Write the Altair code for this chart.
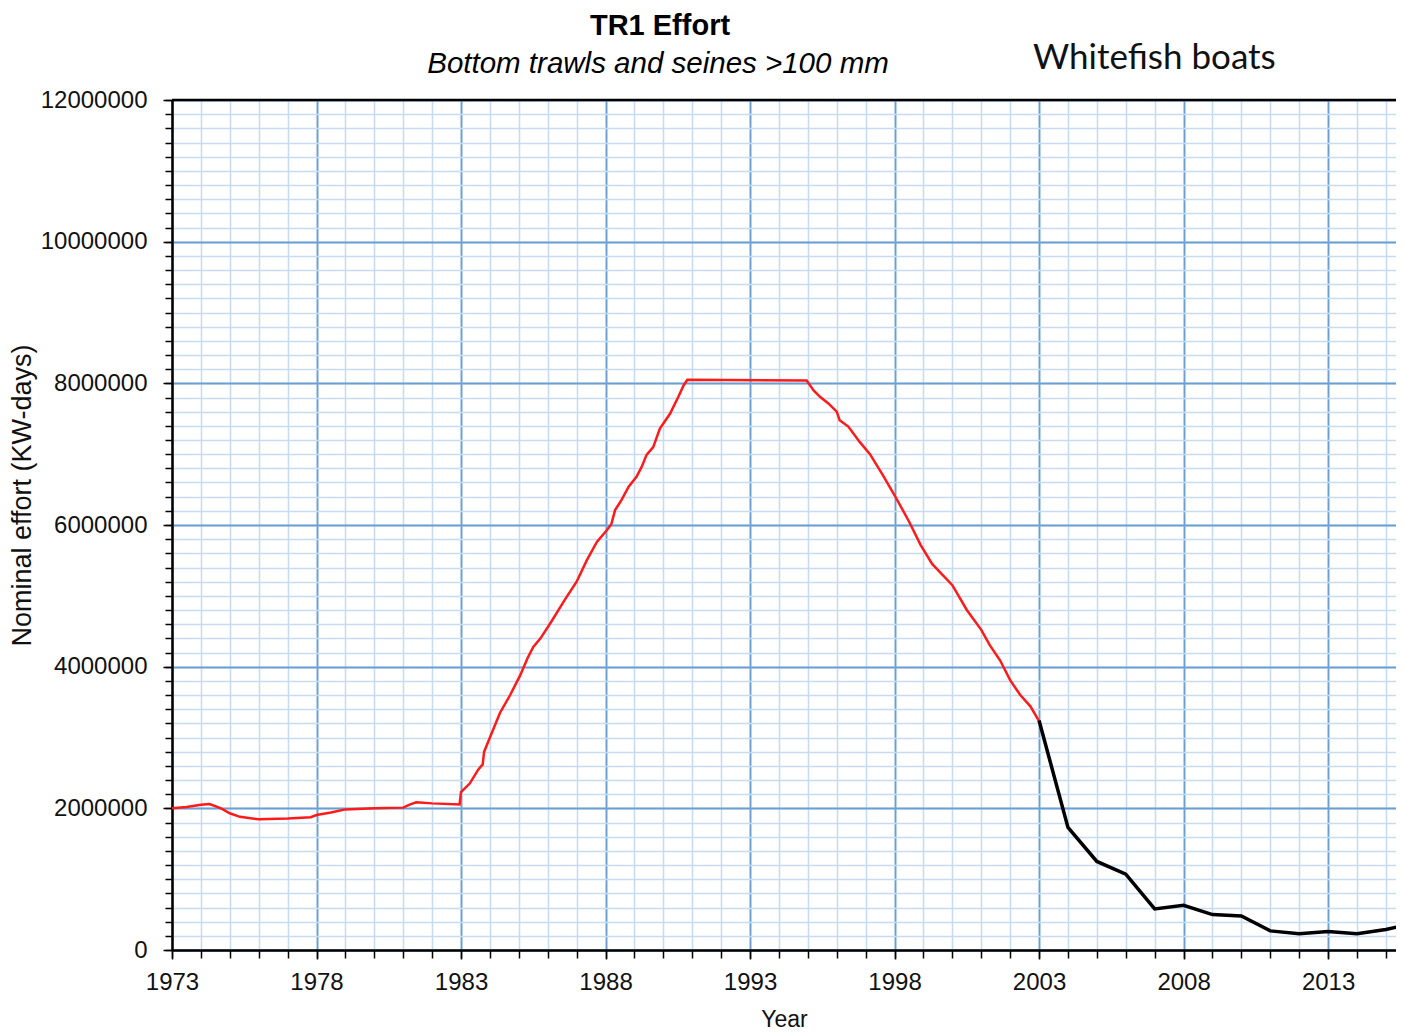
import altair as alt
import pandas as pd

# ---- data ----
red_year = [1973.0, 1973.5, 1974.0, 1974.3, 1974.7, 1975.0, 1975.35, 1976.0, 1977.0, 1977.8,
            1978.0, 1978.5, 1979.0, 1980.0, 1981.0, 1981.2, 1981.45, 1982.0, 1982.95, 1983.0,
            1983.3, 1983.6, 1983.75, 1983.8, 1984.0, 1984.35, 1984.7, 1985.05, 1985.3, 1985.5,
            1985.75, 1986.1, 1986.6, 1987.0, 1987.35, 1987.7, 1988.05, 1988.2, 1988.33, 1988.55,
            1988.8, 1989.07, 1989.25, 1989.42, 1989.65, 1989.88, 1990.23, 1990.52, 1990.7, 1990.83,
            1994.96, 1995.2, 1995.42, 1995.7, 1996.0, 1996.1, 1996.4, 1996.8, 1997.15, 1997.6,
            1998.0, 1998.5, 1998.9, 1999.3, 2000.0, 2000.5, 2001.0, 2001.3, 2001.65, 2002.0,
            2002.35, 2002.7, 2003.0]
red_value_m = [2.00, 2.02, 2.05, 2.06, 2.00, 1.93, 1.88, 1.845, 1.855, 1.875,
               1.905, 1.94, 1.985, 2.00, 2.01, 2.05, 2.085, 2.07, 2.055, 2.23,
               2.35, 2.55, 2.62, 2.80, 3.00, 3.35, 3.60, 3.88, 4.12, 4.28,
               4.40, 4.62, 4.95, 5.20, 5.50, 5.76, 5.93, 6.01, 6.21, 6.35,
               6.54, 6.68, 6.82, 6.99, 7.10, 7.36, 7.57, 7.81, 7.97, 8.05,
               8.04, 7.90, 7.81, 7.72, 7.60, 7.48, 7.39, 7.17, 7.00, 6.70,
               6.42, 6.05, 5.72, 5.45, 5.15, 4.80, 4.52, 4.30, 4.09, 3.81,
               3.60, 3.44, 3.23]

black_year = [2003, 2004, 2005, 2006, 2007, 2008, 2009, 2010, 2011, 2012, 2013, 2014, 2015, 2015.65]
black_value_m = [3.24, 1.73, 1.25, 1.07, 0.58, 0.63, 0.50, 0.48, 0.27, 0.23, 0.26, 0.23, 0.29, 0.35]

minor_years = list(range(1973, 2016))
major_years = list(range(1973, 2016, 5))
minor_vals = list(range(0, 12000001, 200000))
major_vals = list(range(0, 12000001, 2000000))

title_text = "TR1 Effort"
subtitle_text = "Bottom trawls and seines >100 mm"
note_text = "Whitefish boats"

red_df = pd.DataFrame({"year": red_year, "value": [v * 1e6 for v in red_value_m]})
black_df = pd.DataFrame({"year": black_year, "value": [v * 1e6 for v in black_value_m]})
top_df = pd.DataFrame({"value": [12000000]})

FONT = "Liberation Sans"
MINOR = "#c8dcf1"
MAJOR = "#6a9fd4"

xs = alt.Scale(domain=[1973, 2015.35], nice=False, zero=False)
ys = alt.Scale(domain=[0, 12000000], nice=False)

minor_x = alt.Axis(orient="bottom", values=minor_years, grid=True, gridColor=MINOR, gridWidth=1.6,
                   ticks=True, tickColor="black", tickSize=8, tickWidth=1.5, labels=False,
                   domain=False, title=None)
minor_y = alt.Axis(orient="left", values=minor_vals, grid=True, gridColor=MINOR, gridWidth=1.6,
                   ticks=True, tickColor="black", tickSize=7, tickWidth=1.5, labels=False,
                   domain=False, title=None)
major_x = alt.Axis(orient="bottom", values=major_years, grid=True, gridColor=MAJOR, gridWidth=1.8,
                   ticks=True, tickColor="black", tickSize=9, tickWidth=1.5,
                   domain=True, domainColor="black", domainWidth=2.5,
                   format="d", labelFont=FONT, labelFontSize=24, labelColor="#111111",
                   labelPadding=11, labelOverlap=False, labelFlush=False,
                   title="Year", titleFont=FONT, titleFontSize=23, titleFontWeight="normal",
                   titleColor="#111111", titlePadding=14)
major_y = alt.Axis(orient="left", values=major_vals, grid=True, gridColor=MAJOR, gridWidth=1.8,
                   ticks=True, tickColor="black", tickSize=9, tickWidth=1.5,
                   domain=True, domainColor="black", domainWidth=2.5,
                   format="d", labelFont=FONT, labelFontSize=24, labelColor="#111111",
                   labelPadding=16, labelOverlap=False, labelFlush=False,
                   title="Nominal effort (KW-days)", titleFont=FONT, titleFontSize=27,
                   titleFontWeight="normal", titleColor="#111111", titlePadding=4, titleY=395)

red = alt.Chart(red_df).mark_line(color="#ff1a1a", strokeWidth=2.5, clip=True).encode(
    x=alt.X("year:Q", scale=xs, axis=minor_x),
    y=alt.Y("value:Q", scale=ys, axis=minor_y),
)
black = alt.Chart(black_df).mark_line(color="black", strokeWidth=3.5, clip=True).encode(
    x=alt.X("year:Q", scale=xs, axis=major_x),
    y=alt.Y("value:Q", scale=ys, axis=major_y),
)
top = alt.Chart(top_df).mark_rule(color="black", strokeWidth=2.5).encode(
    y=alt.Y("value:Q", scale=ys, axis=None)
)
title_mark = alt.Chart(pd.DataFrame({"t": [title_text]})).mark_text(
    align="center", baseline="alphabetic", font=FONT, fontSize=29, fontWeight="bold", color="black"
).encode(x=alt.value(488), y=alt.value(-65), text="t:N")
subtitle_mark = alt.Chart(pd.DataFrame({"t": [subtitle_text]})).mark_text(
    align="center", baseline="alphabetic", font=FONT, fontSize=29.5, fontStyle="italic", color="black"
).encode(x=alt.value(486), y=alt.value(-27), text="t:N")
note = alt.Chart(pd.DataFrame({"t": [note_text]})).mark_text(
    align="left", baseline="alphabetic", font="Lato", fontSize=35, color="#111111"
).encode(x=alt.value(861), y=alt.value(-31), text="t:N")

chart = alt.layer(red, black, top, title_mark, subtitle_mark, note).resolve_axis(
    x="independent", y="independent"
).properties(
    width=1224,
    height=850,
    autosize=alt.AutoSizeParams(type="none"),
    padding={"left": 164, "top": 92, "right": 0, "bottom": 80},
).configure_view(stroke=None).configure(background="white")

chart.save("out.html", embed_options={"renderer": "svg", "actions": False})
